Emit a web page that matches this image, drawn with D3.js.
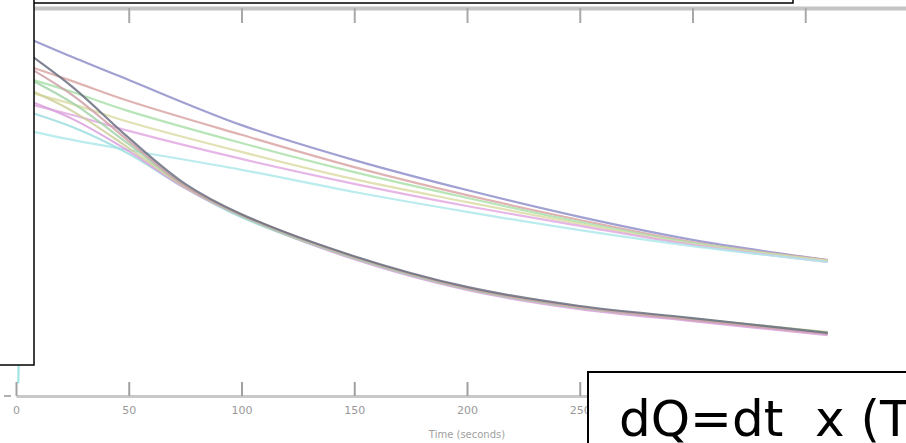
<!DOCTYPE html>
<html>
<head>
<meta charset="utf-8">
<script src="https://cdn.jsdelivr.net/npm/d3@7"></script>
<style>
  html, body { margin: 0; padding: 0; background: #fff; }
  svg { display: block; }
</style>
</head>
<body>
<svg id="chart" width="906" height="443"></svg>
<script>
// time samples (seconds)
const timeSlow = [0, 25, 50, 100, 150, 200, 250, 300, 360];
const timeFast = [0, 25, 50, 75, 100, 150, 200, 250, 300, 360];

// slow cooling curves (upper bundle)
const slowBlue = [93.6, 87.4, 81.5, 69.9, 60.9, 53.2, 46.3, 40.4, 35.2];
const slowRed = [86.1, 81.2, 76.1, 67.4, 59.1, 51.9, 45.5, 39.8, 35.2];
const slowGreen = [82.8, 78.4, 73.5, 65.3, 57.8, 51.2, 45.0, 39.6, 35.0];
const slowYellow = [79.2, 75.3, 70.7, 63.0, 56.0, 50.1, 44.5, 39.3, 35.0];
const slowMagenta = [76.1, 72.5, 68.4, 61.2, 54.8, 49.1, 44.0, 39.1, 34.7];
const slowCyan = [69.2, 66.1, 63.5, 58.4, 52.7, 47.6, 42.9, 38.8, 34.7];

// fast cooling curves (lower bundle)
const fastBlack = [90.5, 79.7, 66.6, 54.8, 47.0, 36.2, 28.3, 23.4, 20.3, 16.5];
const fastRed = [86.6, 77.6, 65.8, 54.2, 46.8, 36.0, 28.0, 23.1, 19.8, 16.2];
const fastGreen = [83.5, 75.6, 65.0, 54.2, 46.5, 35.7, 27.8, 22.9, 20.1, 16.5];
const fastYellow = [80.5, 73.5, 64.0, 54.0, 46.8, 36.0, 28.0, 23.1, 20.1, 16.7];
const fastMagenta = [77.4, 71.5, 63.2, 53.7, 46.5, 35.4, 27.5, 22.6, 19.5, 15.9];
const fastCyan = [74.3, 69.4, 62.5, 53.7, 46.2, 35.7, 27.8, 22.9, 19.8, 16.2];

// start-up transient near t = 0
const spikeTime = [1, 2.5, 5];
const spikeValue = [3.5, 40, 74];

const xTicks = [0, 50, 100, 150, 200, 250, 300, 350];
const xLabelTicks = [0, 50, 100, 150, 200, 250];

const series = [
  { t: timeSlow, v: slowBlue, color: "#8f8fca" },
  { t: timeSlow, v: slowRed, color: "#dba6a6" },
  { t: timeSlow, v: slowGreen, color: "#ace0ac" },
  { t: timeSlow, v: slowYellow, color: "#dcdca6" },
  { t: timeSlow, v: slowMagenta, color: "#e2aae2" },
  { t: timeSlow, v: slowCyan, color: "#aee8ea" },
  { t: timeFast, v: fastCyan, color: "#9fdde0" },
  { t: timeFast, v: fastMagenta, color: "#d9a0dc" },
  { t: timeFast, v: fastYellow, color: "#cfcf9c" },
  { t: timeFast, v: fastGreen, color: "#a2d2a8" },
  { t: timeFast, v: fastRed, color: "#cfa0a8" },
  { t: timeFast, v: fastBlack, color: "#6a6f80" },
  { t: spikeTime, v: spikeValue, color: "#8fe0e0" },
];

const svg = d3.select("#chart");

const x = d3.scaleLinear().domain([0, 400]).range([16, 918]);
const y = d3.scaleLinear().domain([0, 100]).range([397, 8]);

const line = d3
  .line()
  .x((d) => x(d[0]))
  .y((d) => y(d[1]))
  .curve(d3.curveCatmullRom.alpha(0.5));

svg
  .append("g")
  .selectAll("path")
  .data(series)
  .enter()
  .append("path")
  .attr("d", (s) => line(s.t.map((t, i) => [t, s.v[i]])))
  .attr("fill", "none")
  .attr("stroke", (s) => s.color)
  .attr("stroke-width", 2.2)
  .attr("stroke-opacity", 0.85);

// bottom axis, ticks pointing inwards
const bottomTicks = svg
  .append("g")
  .attr("transform", "translate(0,396)")
  .call(d3.axisBottom(x).tickValues(xTicks).tickSizeInner(-14).tickSizeOuter(0).tickFormat(""));
bottomTicks.select(".domain").attr("stroke", "#c8c8c8").attr("stroke-width", 3);
bottomTicks.selectAll(".tick line").attr("stroke", "#a0a0a0").attr("stroke-width", 2);

const bottomLabels = svg
  .append("g")
  .attr("transform", "translate(0,396)")
  .call(d3.axisBottom(x).tickValues(xLabelTicks).tickSize(0).tickPadding(10));
bottomLabels.select(".domain").remove();
bottomLabels
  .selectAll(".tick text")
  .attr("fill", "#999")
  .style("font-family", "DejaVu Sans, sans-serif")
  .style("font-size", "11px");

svg
  .append("text")
  .attr("x", x(200))
  .attr("y", 438)
  .attr("text-anchor", "middle")
  .attr("fill", "#a0a0a0")
  .style("font-family", "DejaVu Sans, sans-serif")
  .style("font-size", "10px")
  .text("Time (seconds)");

// small mark at the left end of the axis
svg
  .append("line")
  .attr("x1", 4).attr("x2", 11)
  .attr("y1", 396).attr("y2", 396)
  .attr("stroke", "#b0b0b0")
  .attr("stroke-width", 2);

// top axis
const topAxis = svg
  .append("g")
  .attr("transform", "translate(0,8)")
  .call(d3.axisTop(x).tickValues(xTicks).tickSizeInner(-15).tickSizeOuter(0).tickFormat(""));
topAxis.select(".domain").attr("stroke", "#c4c4c4").attr("stroke-width", 4);
topAxis.selectAll(".tick line").attr("stroke", "#a8a8a8").attr("stroke-width", 2);

// overlay boxes from the slide
svg
  .append("rect")
  .attr("x", -3).attr("y", -3)
  .attr("width", 796).attr("height", 6)
  .attr("fill", "#fff")
  .attr("stroke", "#000")
  .attr("stroke-width", 1.5);

svg
  .append("rect")
  .attr("x", -3).attr("y", -3)
  .attr("width", 37).attr("height", 368)
  .attr("fill", "#fff")
  .attr("stroke", "#000")
  .attr("stroke-width", 1.5);

svg
  .append("rect")
  .attr("x", 588).attr("y", 372)
  .attr("width", 330).attr("height", 80)
  .attr("fill", "#fff")
  .attr("stroke", "#000")
  .attr("stroke-width", 2);

svg
  .append("text")
  .attr("x", 619)
  .attr("y", 436)
  .attr("fill", "#000")
  .style("font-family", "DejaVu Sans, sans-serif")
  .style("font-size", "50px")
  .style("white-space", "pre")
  .text("dQ=dt  x (T");
</script>
</body>
</html>
